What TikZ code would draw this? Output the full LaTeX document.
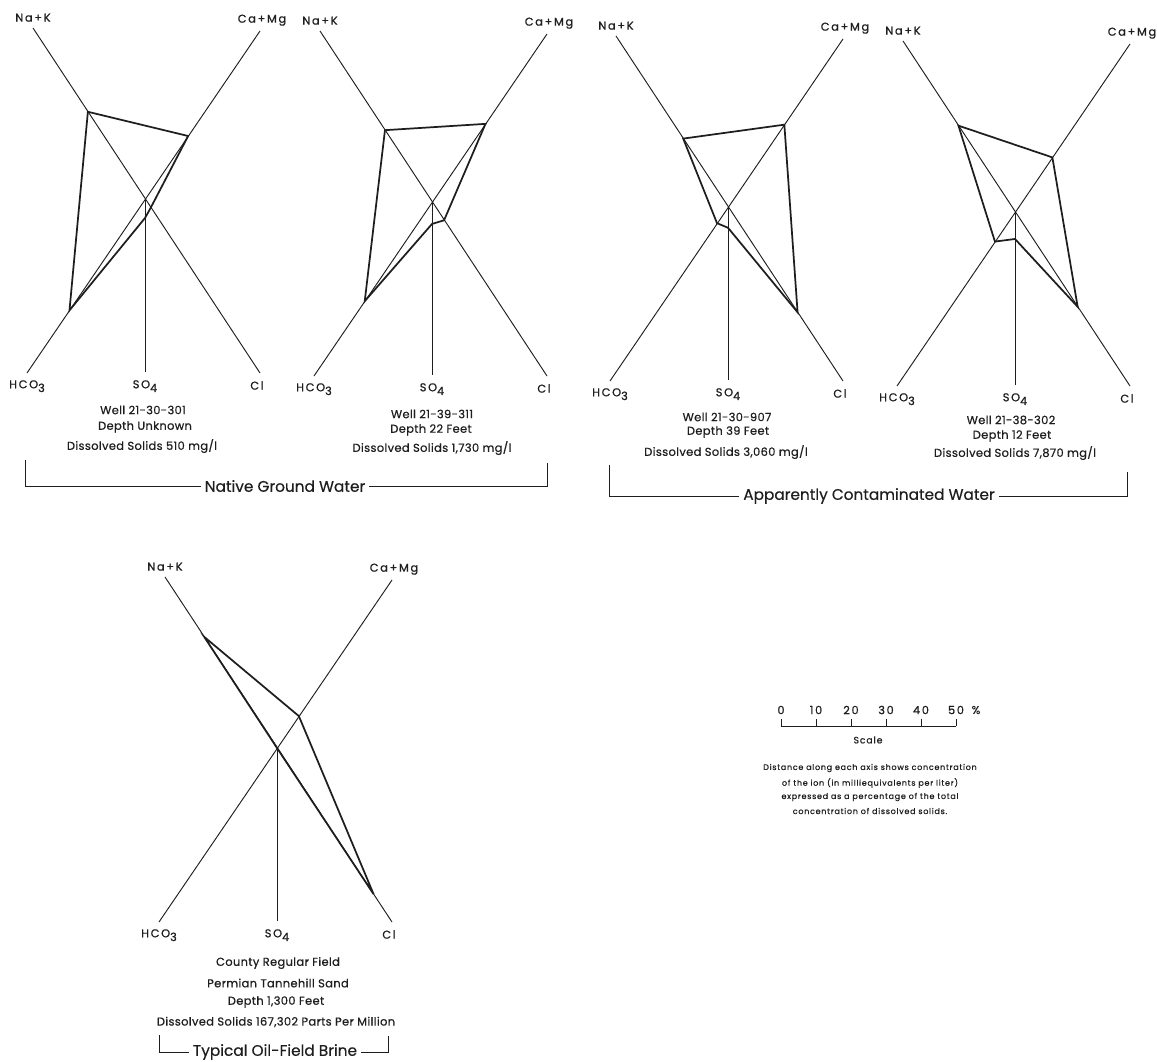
\documentclass[tikz,border=0pt]{standalone}
\usepackage{fontspec}
\setmainfont{Poppins}
\newfontfamily\ionf{Poppins}[LetterSpace=15,FakeBold=0.8]
\newfontfamily\infof{Poppins}[LetterSpace=3,FakeBold=0.6]
\newfontfamily\groupf{Poppins}[FakeBold=0.4]
\newfontfamily\scalef{Poppins}[LetterSpace=9,FakeBold=0.5]
\usetikzlibrary{calc}
\definecolor{ink}{RGB}{30,30,30}
\tikzset{
  axisline/.style={draw=ink, line width=0.7pt},
  polyline/.style={draw=ink, line width=1.3pt, line join=miter},
  ionlab/.style={inner sep=0pt, font={\ionf\fontsize{8.5}{10}\selectfont}, text=ink},
  infolab/.style={inner sep=0pt, font={\infof\fontsize{8.6}{10}\selectfont}, text=ink},
  grouplab/.style={inner sep=3pt, font={\groupf\fontsize{11.5}{13}\selectfont}, text=ink},
  scalenum/.style={inner sep=0pt, font={\ionf\fontsize{8.5}{10}\selectfont}, text=ink},
  scaletxt/.style={inner sep=0pt, font={\scalef\fontsize{6}{7}\selectfont}, text=ink},
}
\newcommand\stiffdiag[8]{%
  \coordinate (#1) at (#2,#3);
  \coordinate (#1NK) at ($(#1)+(-112,-171)$);
  \coordinate (#1CM) at ($(#1)+(115,-168)$);
  \coordinate (#1HC) at ($(#1)+(-118,174)$);
  \coordinate (#1CL) at ($(#1)+(115,174)$);
  \coordinate (#1SO) at ($(#1)+(0,173)$);
  \draw[axisline] (#1NK) -- (#1CL);
  \draw[axisline] (#1CM) -- (#1HC);
  \draw[axisline] (#1) -- (#1SO);
  \coordinate (#1pNK) at ($(#1)!#4!(#1NK)$);
  \coordinate (#1pCM) at ($(#1)!#5!(#1CM)$);
  \coordinate (#1pCL) at ($(#1)!#6!(#1CL)$);
  \coordinate (#1pSO) at ($(#1)!#7!(#1SO)$);
  \coordinate (#1pHC) at ($(#1)!#8!(#1HC)$);
  \draw[polyline] (#1pNK) -- (#1pCM) -- (#1pCL) -- (#1pSO) -- (#1pHC) -- cycle;
  \node[ionlab, anchor=south] (#1tNK) at ($(#1NK)+(0,-6)$) {Na+K};
  \node[ionlab, anchor=south] (#1tCM) at ($(#1CM)+(2,-5)$) {Ca+Mg};
  \node[ionlab, anchor=north] (#1tHC) at ($(#1HC)+(0,7)$) {HCO\raisebox{-0.6ex}{3}};
  \node[ionlab, anchor=north] (#1tSO) at ($(#1SO)+(0,8)$) {SO\raisebox{-0.6ex}{4}};
  \node[ionlab, anchor=north] (#1tCL) at ($(#1CL)+(-3,8)$) {Cl};
}
\begin{document}
\begin{tikzpicture}[x=0.75pt,y=-0.75pt]
\fill[white] (0,0) rectangle (1157,1062);
\useasboundingbox (0,0) rectangle (1157,1062);

% diagrams: name, cx, cy, tNaK, tCaMg, tCl, tSO4, tHCO3
\stiffdiag{da}{145}{199}{0.51}{0.375}{0.05}{0.11}{0.64}
\stiffdiag{db}{432}{202}{0.42}{0.465}{0.105}{0.127}{0.57}
\stiffdiag{dc}{728}{207}{0.40}{0.49}{0.605}{0.12}{0.093}
\stiffdiag{dd}{1015}{212}{0.505}{0.325}{0.545}{0.156}{0.17}
\stiffdiag{de}{277}{748}{0.65}{0.19}{0.84}{0}{0}

% well information
\node[infolab] (ia1) at (143,410) {Well 21-30-301};
\node[infolab] (ia2) at (145,427) {Depth Unknown};
\node[infolab] (ia3) at (142,446) {Dissolved Solids 510 mg/l};
\node[infolab] (ib1) at (432,414) {Well 21-39-311};
\node[infolab] (ib2) at (431,430) {Depth 22 Feet};
\node[infolab] (ib3) at (432,448) {Dissolved Solids 1,730 mg/l};
\node[infolab] (ic1) at (727,417) {Well 21-30-907};
\node[infolab] (ic2) at (728,432) {Depth 39 Feet};
\node[infolab] (ic3) at (726,452) {Dissolved Solids 3,060 mg/l};
\node[infolab] (id1) at (1011,420) {Well 21-38-302};
\node[infolab] (id2) at (1012,436) {Depth 12 Feet};
\node[infolab] (id3) at (1015,453) {Dissolved Solids 7,870 mg/l};
\node[infolab] (ie1) at (278,963) {County Regular Field};
\node[infolab] (ie2) at (278,983) {Permian Tannehill Sand};
\node[infolab] (ie3) at (276,1002) {Depth 1,300 Feet};
\node[infolab] (ie4) at (276,1022) {Dissolved Solids 167,302 Parts Per Million};

% group brackets
\node[grouplab] (g1) at (285,486) {Native Ground Water};
\coordinate (g1l) at (25,460);
\coordinate (g1r) at (547,463);
\draw[axisline] (g1.west) -- (g1l |- g1.west) -- (g1l);
\draw[axisline] (g1.east) -- (g1r |- g1.east) -- (g1r);

\node[grouplab] (g2) at (869,496) {Apparently Contaminated Water};
\coordinate (g2l) at (609,465);
\coordinate (g2r) at (1127,472);
\draw[axisline] (g2.west) -- (g2l |- g2.west) -- (g2l);
\draw[axisline] (g2.east) -- (g2r |- g2.east) -- (g2r);

\node[grouplab] (g3) at (275,1052) {Typical Oil-Field Brine};
\coordinate (g3l) at (159,1035);
\coordinate (g3r) at (388,1036);
\draw[axisline] (g3.west) -- (g3l |- g3.west) -- (g3l);
\draw[axisline] (g3.east) -- (g3r |- g3.east) -- (g3r);

% scale
\coordinate (s0) at (781,726);
\coordinate (s5) at (956,726);
\draw[axisline] (s0) -- (s5);
\foreach \k/\v in {0/0,1/10,2/20,3/30,4/40,5/50}{
  \coordinate (st\k) at ($(s0)!\k/5!(s5)$);
  \draw[axisline] (st\k) -- ++(0,-7);
  \node[scalenum] (sn\k) at ($(st\k)+(0,-16)$) {\v};
}
\node[scalenum] (spc) at (976,710) {\%};
\node[scaletxt, font={\scalef\fontsize{7}{8}\selectfont}] (sl) at (868,740) {Scale};
\node[scaletxt] (sx1) at (870,768) {Distance along each axis shows concentration};
\node[scaletxt] (sx2) at (870,783) {of the ion (in milliequivalents per liter)};
\node[scaletxt] (sx3) at (870,797) {expressed as a percentage of the total};
\node[scaletxt] (sx4) at (870,811) {concentration of dissolved solids.};
\end{tikzpicture}
\end{document}
